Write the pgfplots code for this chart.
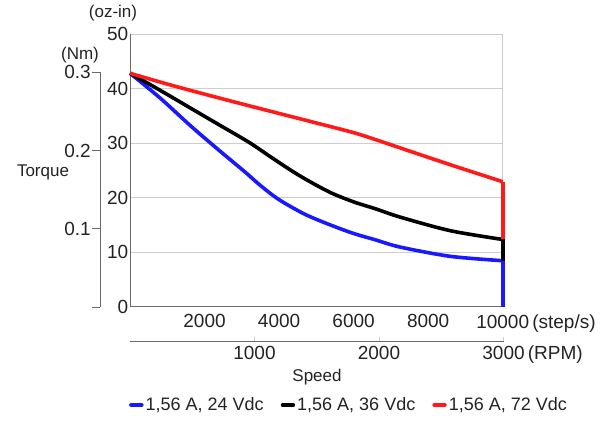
\documentclass[border=0pt]{standalone}
\usepackage{fontspec}
\setmainfont{Liberation Sans}
\usepackage{pgfplots}
\pgfplotsset{compat=1.18}
\definecolor{axgray}{RGB}{105,105,105}
\definecolor{lgray}{RGB}{205,205,205}
\definecolor{txt}{RGB}{35,35,35}
\definecolor{cblue}{RGB}{25,25,255}
\definecolor{cred}{RGB}{255,25,25}
\newcommand\tickfont{\fontsize{19}{21}\selectfont}
\newcommand\labfont{\fontsize{17}{19}\selectfont}
\begin{document}
\begin{tikzpicture}[x=1pt,y=1pt]
\path[use as bounding box] (0,0) rectangle (607,-420);
% main axis (oz-in vs step/s)
\begin{axis}[
  at={(130pt,-306.5pt)}, anchor=south west,
  scale only axis, width=372.7pt, height=272.5pt,
  xmin=0, xmax=10000, ymin=0, ymax=50,
  axis lines*=left,
  axis line style={axgray, line width=0.9pt, -},
  /pgf/number format/assume math mode=true,
  scaled x ticks=false, scaled y ticks=false,
  major tick length=0pt,
  ytick={0,10,20,30,40,50},
  yticklabels={0,10,20,30,40,50},
  ymajorgrids,
  grid style={lgray, line width=0.9pt},
  xtick={2000,4000,6000,8000,10000},
  xticklabels={2000,4000,6000,8000,{10000\rlap{\,(step/s)}}},
  extra x ticks={10000},
  extra x tick labels={},
  extra x tick style={grid=major},
  yticklabel style={font=\tickfont, text=txt, inner sep=1.5pt},
  xticklabel style={font=\tickfont, text=txt, inner sep=2pt, yshift=-6pt},
  legend columns=3,
  legend style={at={(0.5876,-0.3615)}, anchor=center, draw=none, fill=none,
    font=\fontsize{18}{20}\selectfont, text=txt,
    /tikz/every even column/.append style={column sep=15pt}},
  legend image code/.code={\draw[#1, line width=4.5pt, line cap=round] (0pt,0pt) -- (10pt,0pt);},
  clip=false,
]
\addplot[cblue, line width=3.6pt, smooth, tension=0.5] coordinates {
  (0,42.8) (800,38.3) (1650,33.0) (2400,28.6) (3100,24.6) (3500,22.2)
  (4000,19.6) (4700,16.9) (5400,14.9) (6000,13.4) (6600,12.2)
  (7250,10.9) (8600,9.2) (10000,8.4)
};
\addlegendentry{1,56 A, 24 Vdc}
\addplot[black, line width=3.6pt, smooth, tension=0.5] coordinates {
  (0,42.8) (800,39.7) (1650,36.3) (2400,33.3) (3200,30.1) (3850,27.1)
  (4550,24.0) (5350,21.0) (6000,19.2) (6600,17.9) (7250,16.4) (8600,13.9)
  (10000,12.3)
};
\addlegendentry{1,56 A, 36 Vdc}
\addplot[cred, line width=3.6pt, smooth, tension=0.5] coordinates {
  (0,42.8) (800,41.2) (1650,39.6) (3100,37.0) (5100,33.5) (6000,31.9)
  (6600,30.6) (7250,29.1) (8600,26.0) (10000,22.9)
};
\addlegendentry{1,56 A, 72 Vdc}
\addplot[cred, line width=3.6pt, forget plot] coordinates {(10000,22.9) (10000,12.3)};
\addplot[black, line width=3.6pt, forget plot] coordinates {(10000,12.3) (10000,8.4)};
\addplot[cblue, line width=3.6pt, forget plot] coordinates {(10000,8.4) (10000,0)};
\end{axis}
% Nm axis
\begin{axis}[
  at={(100pt,-307pt)}, anchor=south west,
  scale only axis, width=10pt, height=234.6pt,
  xmin=0, xmax=1, ymin=0, ymax=0.3,
  axis y line*=left, hide x axis,
  axis line style={axgray, line width=0.9pt, -},
  /pgf/number format/assume math mode=true,
  ytick={0,0.1,0.2,0.3}, yticklabels={,0.1,0.2,0.3},
  ytick align=outside, major tick length=8pt,
  tick style={axgray, line width=0.9pt},
  yticklabel style={font=\tickfont, text=txt, inner sep=1pt},
]
\end{axis}
% RPM axis
\begin{axis}[
  at={(130pt,-341pt)}, anchor=south west,
  scale only axis, width=373.5pt, height=10pt,
  xmin=0, xmax=3000, ymin=0, ymax=1,
  axis x line*=bottom, hide y axis,
  axis line style={axgray, line width=0.9pt, -},
  /pgf/number format/assume math mode=true,
  scaled x ticks=false,
  xtick={1000,2000,3000}, xticklabels={1000,2000,{3000\rlap{\,(RPM)}}},
  xtick align=inside, major tick length=4pt,
  tick style={lgray, line width=0.9pt},
  xticklabel style={font=\tickfont, text=txt, inner sep=2pt, yshift=-3pt},
]
\end{axis}
\node[font=\labfont, text=txt] at (113,-13) {(oz-in)};
\node[font=\labfont, text=txt] at (80,-55) {(Nm)};
\node[font=\labfont, text=txt] at (43,-172) {Torque};
\node[font=\labfont, text=txt] at (317,-377) {Speed};
\end{tikzpicture}
\end{document}
